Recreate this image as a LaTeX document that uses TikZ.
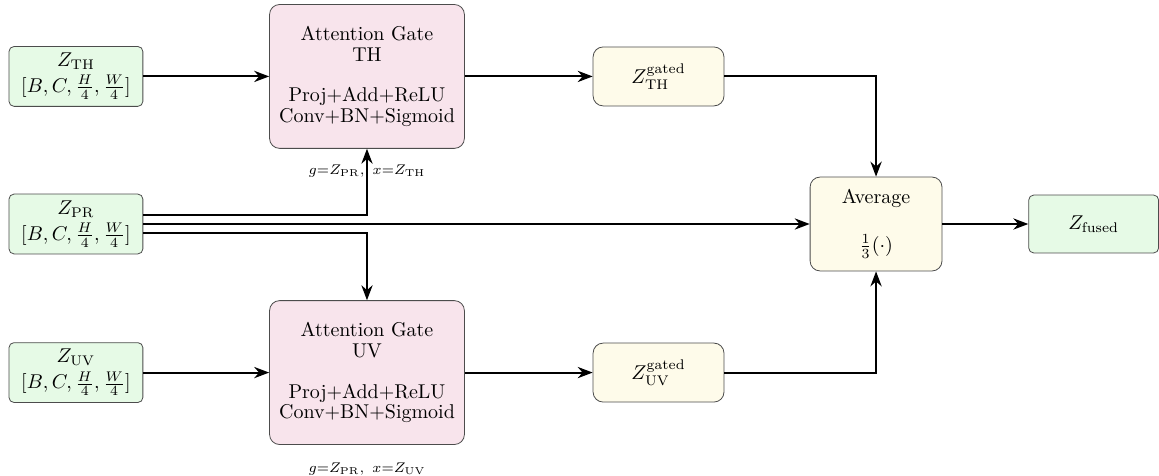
\documentclass[tikz,border=0pt]{standalone}
\usepackage{amsmath,amssymb}
\usepackage{tikz}
\usetikzlibrary{positioning,arrows.meta}

\definecolor{featgreen}{HTML}{E6FAE6}
\definecolor{gatepink}{HTML}{F8E4EC}
\definecolor{avgyellow}{HTML}{FEFBEA}

\tikzset{
  feat/.style={draw=black!70, fill=featgreen, rounded corners=2.5pt, align=center,
    minimum width=67pt, minimum height=29.5pt},
  gate/.style={draw=black!70, fill=gatepink, rounded corners=5pt, align=center,
    minimum width=97.5pt, minimum height=72pt, font=\linespread{0.85}\selectfont},
  gated/.style={draw=black!70, fill=avgyellow, rounded corners=5pt,
    minimum width=65.5pt, minimum height=29.5pt},
  avgbox/.style={gated, align=center, minimum width=66pt, minimum height=47pt},
  fused/.style={feat, minimum width=65pt, minimum height=29pt},
  gatelabel/.style={font=\scriptsize, inner sep=0pt},
  flow/.style={-{Stealth}, line width=1pt},
}

\begin{document}
\begin{tikzpicture}
		% Define nodes
		\node[feat] (ZTH) {$Z_{\mathrm{TH}}$\\[1pt]$[B, C, \frac{H}{4}, \frac{W}{4}]$};
		\node[feat, below=43.5pt of ZTH] (ZPR) {$Z_{\mathrm{PR}}$\\[1pt]$[B, C, \frac{H}{4}, \frac{W}{4}]$};
		\node[feat, below=44pt of ZPR] (ZUV) {$Z_{\mathrm{UV}}$\\[1pt]$[B, C, \frac{H}{4}, \frac{W}{4}]$};
		\node[gate, right=63pt of ZTH] (AGTH) {Attention Gate\\TH\\ \\Proj+Add+ReLU\\Conv+BN+Sigmoid};
		\node[gate, right=63pt of ZUV] (AGUV) {Attention Gate\\UV\\ \\Proj+Add+ReLU\\Conv+BN+Sigmoid};
		\node[gatelabel, below=8pt of AGTH] (LTH) {$g{=}Z_{\mathrm{PR}},\ x{=}Z_{\mathrm{TH}}$};
		\node[gatelabel, below=9pt of AGUV] (LUV) {$g{=}Z_{\mathrm{PR}},\ x{=}Z_{\mathrm{UV}}$};
		\node[gated, right=64pt of AGTH] (GTH) {$Z^{\mathrm{gated}}_{\mathrm{TH}}$};
		\node[gated, right=64pt of AGUV] (GUV) {$Z^{\mathrm{gated}}_{\mathrm{UV}}$};
		\node[avgbox, right=333.5pt of ZPR] (AVG) {Average\\ \\$\frac{1}{3}(\cdot)$};
		\node[fused, right=43pt of AVG] (ZF) {$Z_{\mathrm{fused}}$};
		
		% Connect the nodes
		\draw[flow] (ZTH) -- (AGTH);
		\draw[flow] (ZUV) -- (AGUV);
		\draw[flow] ([yshift=4.5pt]ZPR.east) -| (AGTH.south);
		\draw[flow] (ZPR) -- (AVG);
		\draw[flow] ([yshift=-4.5pt]ZPR.east) -| (AGUV.north);
		\draw[flow] (AGTH) -- (GTH);
		\draw[flow] (AGUV) -- (GUV);
		\draw[flow] (GTH) -| (AVG);
		\draw[flow] (GUV) -| (AVG);
		\draw[flow] (AVG) -- (ZF);
		
		\useasboundingbox (-38pt,38.25pt) rectangle (541.5pt,-199.75pt);
	\end{tikzpicture}
\end{document}
